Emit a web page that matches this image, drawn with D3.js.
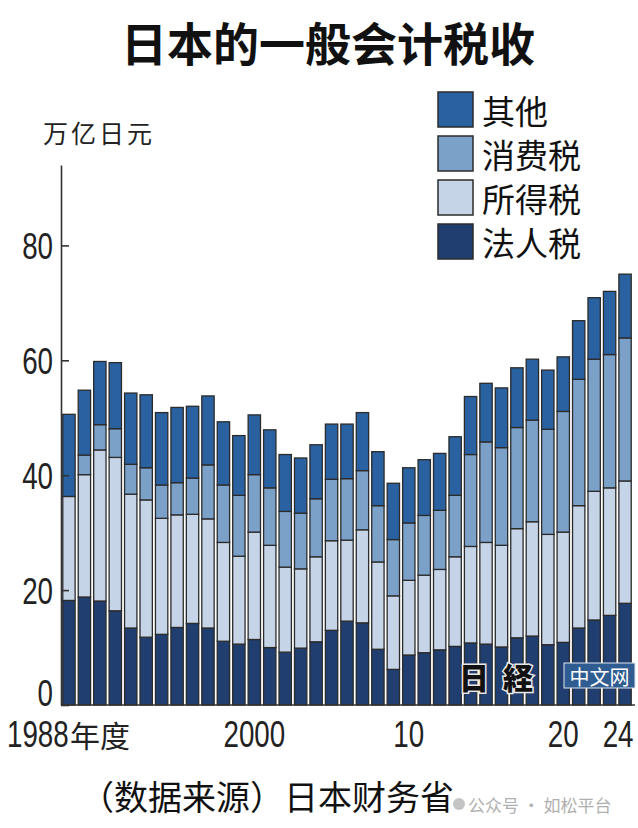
<!DOCTYPE html>
<html>
<head>
<meta charset="utf-8">
<script src="https://cdn.jsdelivr.net/npm/d3@7/dist/d3.min.js"></script>
<style>
  body { margin: 0; background: #fff; }
</style>
</head>
<body>
<div id="vis"></div>
<script>
var w = 638;
var h = 828;

// fiscal years (categories)
var years = [1988, 1989, 1990, 1991, 1992, 1993, 1994, 1995, 1996, 1997,
  1998, 1999, 2000, 2001, 2002, 2003, 2004, 2005, 2006, 2007,
  2008, 2009, 2010, 2011, 2012, 2013, 2014, 2015, 2016, 2017,
  2018, 2019, 2020, 2021, 2022, 2023, 2024];

// 万亿日元
var corpTax = [18.2, 18.8, 18.1, 16.4, 13.4, 11.8, 12.3, 13.5, 14.2, 13.4,
  11.1, 10.6, 11.4, 10.0, 9.2, 9.9, 11.0, 13.0, 14.6, 14.3,
  9.7, 6.2, 8.7, 9.1, 9.6, 10.2, 10.8, 10.6, 10.1, 11.7,
  12.0, 10.5, 10.9, 13.4, 14.8, 15.6, 17.7];
var incomeTax = [18.1, 21.3, 26.3, 26.7, 23.3, 23.9, 20.2, 19.6, 19.0, 19.0,
  17.2, 15.3, 18.7, 17.8, 14.8, 13.8, 14.8, 15.6, 14.1, 16.2,
  15.2, 12.8, 13.0, 13.5, 14.0, 15.6, 16.8, 17.7, 17.7, 19.0,
  19.9, 19.2, 19.2, 21.3, 22.4, 22.2, 21.3];
var consTax = [0, 3.4, 4.4, 5.0, 5.2, 5.6, 5.8, 5.6, 6.3, 9.4,
  10.0, 10.6, 10.0, 10.0, 9.7, 9.7, 10.1, 10.7, 10.7, 10.3,
  9.8, 9.8, 10.0, 10.4, 10.3, 10.7, 16.0, 17.5, 17.0, 17.6,
  17.7, 18.3, 21.0, 22.0, 23.0, 23.2, 24.9];
var otherTax = [14.3, 11.3, 11.0, 11.5, 12.4, 12.7, 12.6, 13.1, 12.5, 12.0,
  11.0, 10.4, 10.4, 10.1, 9.9, 9.6, 9.4, 9.6, 9.5, 10.1,
  9.4, 9.8, 9.6, 9.7, 9.9, 10.2, 10.1, 10.2, 10.4, 10.4,
  10.6, 10.3, 9.5, 10.2, 10.7, 11.0, 11.1];

var keys = ['法人税', '所得税', '消费税', '其他'];
var legendKeys = ['其他', '消费税', '所得税', '法人税'];
var yTicks = [0, 20, 40, 60, 80];
var xLabelYears = [1988, 2000, 2010, 2020, 2024];
var xLabelText = ['1988', '2000', '10', '20', '24'];

var color = d3.scaleOrdinal()
  .domain(keys)
  .range(['#213e70', '#c5d4e6', '#7ca1c9', '#2a61a0']);

var table = years.map(function(yr, i) {
  return { year: yr, '法人税': corpTax[i], '所得税': incomeTax[i], '消费税': consTax[i], '其他': otherTax[i] };
});

var series = d3.stack().keys(keys)(table);

var cjk = '"Noto Sans CJK SC", "Noto Sans", sans-serif';
var digits = '"Liberation Sans", Arial, sans-serif';
var squeeze = 0.75; // the original uses narrow digits

var svg = d3.select('#vis')
  .append('svg')
    .attr('width', w)
    .attr('height', h)
    .style('background', '#ffffff');

var x = d3.scaleBand()
  .domain(years)
  .range([62, 632])
  .paddingInner(0.2)
  .paddingOuter(0.05);

var y = d3.scaleLinear()
  .domain([0, 94])
  .range([705, 165]);

// title
svg.append('text')
  .attr('x', 328)
  .attr('y', 41)
  .attr('text-anchor', 'middle')
  .attr('dominant-baseline', 'central')
  .style('font-family', cjk)
  .style('font-weight', 700)
  .style('font-size', '46px')
  .style('fill', '#111')
  .text('日本的一般会计税收');

// unit
svg.append('text')
  .attr('x', 43)
  .attr('y', 132)
  .attr('dominant-baseline', 'central')
  .style('font-family', cjk)
  .style('font-size', '25px')
  .style('letter-spacing', '3px')
  .style('fill', '#222')
  .text('万亿日元');

// stacked bars
svg.append('g')
  .selectAll('g')
  .data(series)
  .enter()
  .append('g')
    .attr('fill', function(d) { return color(d.key); })
  .selectAll('rect')
  .data(function(d) { return d; })
  .enter()
  .append('rect')
    .attr('x', function(d) { return x(d.data.year); })
    .attr('y', function(d) { return y(d[1]); })
    .attr('width', x.bandwidth())
    .attr('height', function(d) { return y(d[0]) - y(d[1]); })
    .style('stroke', '#2b2b2b')
    .style('stroke-width', 1.3);

// y axis
var yAxis = svg.append('g')
  .attr('transform', 'translate(61,0)')
  .call(d3.axisLeft(y)
    .tickValues(yTicks)
    .tickSizeInner(-8)
    .tickSizeOuter(0)
    .tickPadding(8));

yAxis.select('.domain')
  .style('stroke', '#333')
  .style('stroke-width', 1.6);
yAxis.selectAll('.tick line')
  .style('stroke', '#333')
  .style('stroke-width', 1.6);
yAxis.selectAll('.tick text')
  .style('font-family', digits)
  .style('font-size', '37px')
  .style('fill', '#222')
  .attr('x', -8 / squeeze)
  .attr('transform', 'scale(' + squeeze + ',1)')
  .attr('dy', function(d) { return d === 0 ? '-0.0em' : '0.35em'; });

// baseline
svg.append('line')
  .attr('x1', 61)
  .attr('x2', 635)
  .attr('y1', y(0))
  .attr('y2', y(0))
  .style('stroke', '#333')
  .style('stroke-width', 1.6);

// x labels
svg.append('g')
  .selectAll('text')
  .data(xLabelYears)
  .enter()
  .append('text')
    .attr('transform', function(d, i) {
      var cx = x(d) + x.bandwidth() / 2;
      if (i === 0) cx = 7;
      if (d === 2024) cx = cx - 7;
      return 'translate(' + cx + ',747) scale(' + squeeze + ',1)';
    })
    .attr('text-anchor', function(d, i) { return i === 0 ? 'start' : 'middle'; })
    .style('font-family', digits)
    .style('font-size', '37px')
    .style('fill', '#222')
    .text(function(d, i) { return xLabelText[i]; });

svg.append('text')
  .attr('x', 70)
  .attr('y', 747)
  .style('font-family', cjk)
  .style('font-size', '30px')
  .style('fill', '#222')
  .text('年度');

// legend
var legend = svg.append('g')
  .selectAll('g')
  .data(legendKeys)
  .enter()
  .append('g')
    .attr('transform', function(d, i) { return 'translate(438,' + (92 + i * 44) + ')'; });

legend.append('rect')
  .attr('width', 35)
  .attr('height', 35)
  .style('fill', function(d) { return color(d); })
  .style('stroke', '#2b2b2b')
  .style('stroke-width', 1.5);

legend.append('text')
  .attr('x', 44)
  .attr('y', 18)
  .attr('dominant-baseline', 'central')
  .style('font-family', cjk)
  .style('font-size', '33px')
  .style('fill', '#111')
  .text(function(d) { return d; });

// watermark (Nikkei)
svg.append('text')
  .attr('x', 503)
  .attr('y', 676)
  .attr('text-anchor', 'middle')
  .attr('dominant-baseline', 'central')
  .style('font-family', '"Noto Sans CJK JP", sans-serif')
  .style('font-weight', 900)
  .style('font-size', '30px')
  .style('letter-spacing', '14px')
  .style('fill', '#111')
  .style('stroke', '#e8e8e8')
  .style('stroke-width', 3)
  .style('paint-order', 'stroke')
  .text('日経');

svg.append('rect')
  .attr('x', 564)
  .attr('y', 663)
  .attr('width', 71)
  .attr('height', 25)
  .style('fill', '#2f5c91')
  .style('stroke', '#dfe6ef')
  .style('stroke-width', 1);

svg.append('text')
  .attr('x', 599.5)
  .attr('y', 676)
  .attr('text-anchor', 'middle')
  .attr('dominant-baseline', 'central')
  .style('font-family', cjk)
  .style('font-size', '20px')
  .style('fill', '#ffffff')
  .text('中文网');

// source
svg.append('text')
  .attr('x', 80)
  .attr('y', 795)
  .attr('dominant-baseline', 'central')
  .style('font-family', cjk)
  .style('font-size', '34px')
  .style('fill', '#111')
  .text('（数据来源）日本财务省');

// account watermark
svg.append('circle')
  .attr('cx', 459)
  .attr('cy', 804)
  .attr('r', 6)
  .style('fill', '#c4c4c4');

svg.append('text')
  .attr('x', 468)
  .attr('y', 804)
  .attr('dominant-baseline', 'central')
  .style('font-family', cjk)
  .style('font-size', '17px')
  .style('fill', '#b0b0b0')
  .text('公众号 · 如松平台');
</script>
</body>
</html>
